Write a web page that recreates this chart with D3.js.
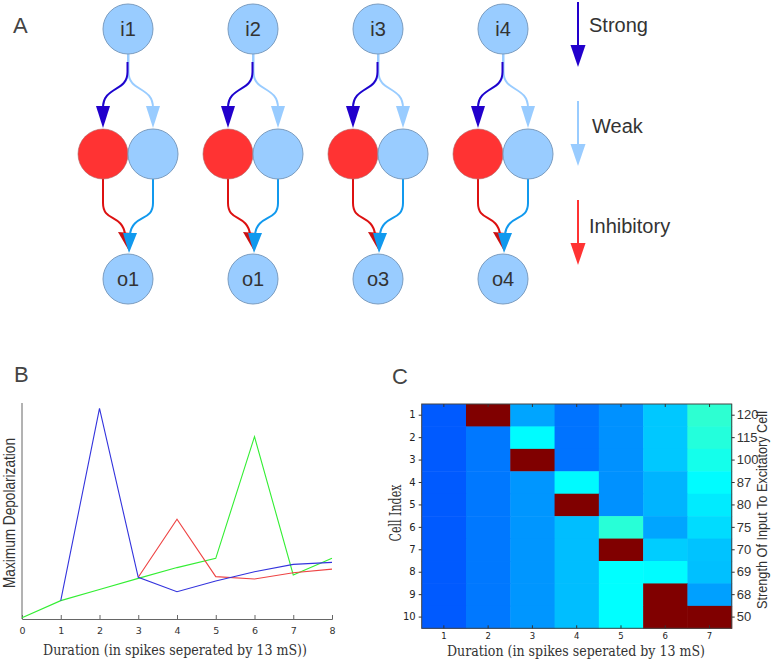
<!DOCTYPE html>
<html><head><meta charset="utf-8">
<script src="https://cdnjs.cloudflare.com/ajax/libs/d3/7.8.5/d3.min.js"></script>
<style>body{margin:0;background:#fff}svg{display:block}</style>
</head><body>
<svg id="c" width="773" height="662"></svg>
<script>
// ---------- DATA ----------
const inputLabels = ["i1", "i2", "i3", "i4"];
const outputLabels = ["o1", "o1", "o3", "o4"];
const legendLabels = ["Strong", "Weak", "Inhibitory"];

const durationTicks = [0, 1, 2, 3, 4, 5, 6, 7, 8];
const blueX = [1, 2, 3, 4, 5, 6, 7, 8];
const blueY = [8.5, 97.5, 19.3, 12.6, 17.6, 21.9, 25.3, 26.2];
const redX = [3, 4, 5, 6, 7, 8];
const redY = [19.3, 46.2, 19.6, 18.5, 21.4, 23.1];
const greenX = [0, 1, 2, 3, 4, 5, 6, 7, 8];
const greenY = [0.6, 8.5, 13.7, 18.8, 23.8, 28.1, 84.4, 20.4, 28.1];

const heatCols = [1, 2, 3, 4, 5, 6, 7];
const cellIndex = [1, 2, 3, 4, 5, 6, 7, 8, 9, 10];
const strengthLabels = ["120", "115", "100", "87", "80", "75", "70", "69", "68", "50"];
const heatValues = [
  [0.213, 1.000, 0.287, 0.238, 0.267, 0.321, 0.419],
  [0.213, 0.243, 0.372, 0.238, 0.267, 0.321, 0.409],
  [0.213, 0.243, 1.000, 0.238, 0.267, 0.321, 0.395],
  [0.213, 0.243, 0.272, 0.370, 0.267, 0.301, 0.372],
  [0.213, 0.243, 0.272, 1.000, 0.267, 0.301, 0.355],
  [0.213, 0.243, 0.272, 0.311, 0.414, 0.287, 0.341],
  [0.213, 0.243, 0.272, 0.311, 1.000, 0.326, 0.316],
  [0.213, 0.243, 0.272, 0.311, 0.375, 0.372, 0.313],
  [0.213, 0.243, 0.272, 0.311, 0.375, 1.000, 0.282],
  [0.213, 0.243, 0.272, 0.311, 0.375, 1.000, 1.000]
];

// ---------- STYLE ----------
const txt = "#333";
const nodeFill = "#99ccff", nodeStroke = "#7a9cc0", redFill = "#ff3333";
const strongC = "#2200cc", weakC = "#99ccff", inhibC = "#dd1111", outC = "#1199ee";
const legendColors = [strongC, weakC, "#ff3333"];
const svg = d3.select("#c");

// ---------- PANEL A ----------
svg.append("text").attr("x", 13).attr("y", 33).attr("font-family", "Liberation Sans, Arial, sans-serif")
  .attr("font-size", 22).attr("fill", "#444").text("A");

const colX = d3.scaleLinear().domain([0, 3]).range([128, 503]);
const R = 25, yIn = 29, yMid = 154, yOut = 279;
const gA = svg.append("g");

inputLabels.forEach((lab, i) => {
  const cx = colX(i);
  const g = gA.append("g");
  g.append("path").attr("d", `M${cx},${yIn + R} V72 C${cx},92 ${cx - 25},86 ${cx - 25},108`)
    .attr("fill", "none").attr("stroke", weakC).attr("stroke-width", 2);
  g.append("path").attr("d", `M${cx + 0.5},${yIn + R} V72 C${cx + 0.5},92 ${cx + 25},86 ${cx + 25},108`)
    .attr("fill", "none").attr("stroke", weakC).attr("stroke-width", 2);
  g.append("path").attr("d", `M${cx - 0.5},${yIn + R + 8} V72 C${cx - 0.5},92 ${cx - 25},86 ${cx - 25},108`)
    .attr("fill", "none").attr("stroke", strongC).attr("stroke-width", 2);
  g.append("path").attr("d", `M${cx - 32},106 L${cx - 18},106 L${cx - 25},128 Z`).attr("fill", strongC);
  g.append("path").attr("d", `M${cx + 18},106 L${cx + 32},106 L${cx + 25},128 Z`).attr("fill", weakC);
  g.append("path").attr("d", `M${cx - 25},${yMid + R} V203 C${cx - 25},222 ${cx - 6},214 ${cx - 3},234`)
    .attr("fill", "none").attr("stroke", inhibC).attr("stroke-width", 2);
  g.append("path").attr("d", `M${cx - 10},232 L${cx + 3},233 L${cx + 1},251 Z`).attr("fill", "#cc1111");
  g.append("path").attr("d", `M${cx + 25},${yMid + R} V203 C${cx + 25},222 ${cx + 5},214 ${cx + 2},234`)
    .attr("fill", "none").attr("stroke", outC).attr("stroke-width", 2);
  g.append("path").attr("d", `M${cx - 5},233 L${cx + 9},233 L${cx + 1},253 Z`).attr("fill", outC);
  g.append("circle").attr("cx", cx).attr("cy", yIn).attr("r", R).attr("fill", nodeFill).attr("stroke", nodeStroke);
  g.append("circle").attr("cx", cx - 25).attr("cy", yMid).attr("r", R).attr("fill", redFill).attr("stroke", "#b06060").attr("stroke-width", 0.6);
  g.append("circle").attr("cx", cx + 25).attr("cy", yMid).attr("r", R).attr("fill", nodeFill).attr("stroke", nodeStroke);
  g.append("circle").attr("cx", cx).attr("cy", yOut).attr("r", R).attr("fill", nodeFill).attr("stroke", nodeStroke);
  g.append("text").attr("x", cx).attr("y", yIn + 7).attr("text-anchor", "middle")
    .attr("font-family", "Liberation Sans, Arial, sans-serif").attr("font-size", 20).attr("fill", txt).text(lab);
  g.append("text").attr("x", cx).attr("y", yOut + 7).attr("text-anchor", "middle")
    .attr("font-family", "Liberation Sans, Arial, sans-serif").attr("font-size", 20).attr("fill", txt).text(outputLabels[i]);
});

const legY = d3.scaleLinear().domain([0, 2]).range([0, 198]);
legendLabels.forEach((lab, i) => {
  const y0 = 2 + legY(i);
  const lx = 578;
  svg.append("line").attr("x1", lx).attr("x2", lx).attr("y1", y0).attr("y2", y0 + 44)
    .attr("stroke", legendColors[i]).attr("stroke-width", 2);
  svg.append("path").attr("d", `M${lx - 7.5},${y0 + 43} L${lx + 7.5},${y0 + 43} L${lx},${y0 + 65} Z`).attr("fill", legendColors[i]);
  svg.append("text").attr("x", i === 1 ? 592 : 589).attr("y", (i === 0 ? 32 : i === 1 ? 133 : 233))
    .attr("font-family", "Liberation Sans, Arial, sans-serif").attr("font-size", 20).attr("fill", txt).text(lab);
});

// ---------- PANEL B ----------
svg.append("text").attr("x", 14).attr("y", 382).attr("font-family", "Liberation Sans, Arial, sans-serif")
  .attr("font-size", 22).attr("fill", "#444").text("B");

const xB = d3.scaleLinear().domain([0, 8]).range([22, 332]);
const yB = d3.scaleLinear().domain([0, 100]).range([619, 403]);
const gB = svg.append("g");
const xAxisB = d3.axisBottom(xB).tickValues(durationTicks).tickSize(-4).tickPadding(8).tickFormat(d3.format("d"));
const axB = gB.append("g").attr("transform", "translate(0,619)").call(xAxisB);
axB.select(".domain").attr("stroke", "#666");
axB.selectAll(".tick line").attr("stroke", "#666");
axB.selectAll(".tick text").attr("font-family", "DejaVu Sans, sans-serif").attr("font-size", 9.5).attr("fill", "#333");
gB.append("line").attr("x1", 22).attr("x2", 22).attr("y1", 403).attr("y2", 619).attr("stroke", "#666");

const lineB = d3.line().x(d => xB(d[0])).y(d => yB(d[1]));
[[greenX, greenY, "#33ee33"], [redX, redY, "#ee4444"], [blueX, blueY, "#3333dd"]].forEach(([xs, ys, c]) => {
  gB.append("path").datum(xs.map((x, i) => [x, ys[i]])).attr("d", lineB)
    .attr("fill", "none").attr("stroke", c).attr("stroke-width", 1.1);
});
gB.append("text").attr("x", 175).attr("y", 655).attr("text-anchor", "middle")
  .attr("font-family", "DejaVu Serif, serif").attr("font-size", 15).attr("fill", "#333")
  .attr("textLength", 264).attr("lengthAdjust", "spacingAndGlyphs")
  .text("Duration (in spikes seperated by 13 mS))");
gB.append("text").attr("transform", "translate(15,513) rotate(-90)").attr("text-anchor", "middle")
  .attr("font-family", "Liberation Sans, Arial, sans-serif").attr("font-size", 17).attr("fill", "#333")
  .attr("textLength", 150).attr("lengthAdjust", "spacingAndGlyphs")
  .text("Maximum Depolarization");

// ---------- PANEL C ----------
svg.append("text").attr("x", 392).attr("y", 384).attr("font-family", "Liberation Sans, Arial, sans-serif")
  .attr("font-size", 22).attr("fill", "#444").text("C");

const xC = d3.scaleBand().domain(heatCols).range([421.7, 731.7]);
const yC = d3.scaleBand().domain(cellIndex).range([404, 628.3]);
const jet = d3.scaleLinear().domain([0, 0.125, 0.375, 0.625, 0.875, 1])
  .range(["#00008f", "#0000ff", "#00ffff", "#ffff00", "#ff0000", "#800000"]);
const gC = svg.append("g");
heatValues.forEach((row, r) => {
  row.forEach((v, c) => {
    gC.append("rect").attr("x", xC(heatCols[c])).attr("y", yC(cellIndex[r]))
      .attr("width", xC.bandwidth() + 0.5).attr("height", yC.bandwidth() + 0.5)
      .attr("fill", jet(v));
  });
});
gC.append("rect").attr("x", 421.7).attr("y", 404).attr("width", 310).attr("height", 224.3)
  .attr("fill", "none").attr("stroke", "#444").attr("stroke-width", 1);

const styleAxis = (sel, fs) => {
  sel.select(".domain").remove();
  sel.selectAll(".tick line").attr("stroke", "#333");
  sel.selectAll(".tick text").attr("font-family", "DejaVu Sans, sans-serif").attr("font-size", fs).attr("fill", "#222");
};
gC.append("g").attr("transform", "translate(0,628.3)")
  .call(d3.axisBottom(xC).tickSize(-3).tickPadding(5)).call(s => styleAxis(s, 8.5));
gC.append("g").attr("transform", "translate(0,404)")
  .call(d3.axisTop(xC).tickSize(-3).tickFormat("")).call(s => styleAxis(s, 9));
gC.append("g").attr("transform", "translate(421.7,0)")
  .call(d3.axisLeft(yC).tickSize(3).tickPadding(3)).call(s => styleAxis(s, 10));
const yCr = d3.scaleBand().domain(strengthLabels).range([404, 628.3]);
gC.append("g").attr("transform", "translate(731.7,0)")
  .call(d3.axisRight(yCr).tickSize(3).tickPadding(2)).call(s => styleAxis(s, 13))
  .selectAll(".tick text").attr("font-family", "Liberation Sans, Arial, sans-serif").attr("fill", "#333");

gC.append("text").attr("x", 576).attr("y", 656).attr("text-anchor", "middle")
  .attr("font-family", "DejaVu Serif, serif").attr("font-size", 15).attr("fill", "#333")
  .attr("textLength", 258).attr("lengthAdjust", "spacingAndGlyphs")
  .text("Duration (in spikes seperated by 13 mS)");
gC.append("text").attr("transform", "translate(401,513) rotate(-90)").attr("text-anchor", "middle")
  .attr("font-family", "DejaVu Serif, serif").attr("font-size", 16).attr("fill", "#333")
  .attr("textLength", 57).attr("lengthAdjust", "spacingAndGlyphs")
  .text("Cell Index");
gC.append("text").attr("transform", "translate(767,510) rotate(-90)").attr("text-anchor", "middle")
  .attr("font-family", "Liberation Sans, Arial, sans-serif").attr("font-size", 15).attr("fill", "#333")
  .attr("textLength", 198).attr("lengthAdjust", "spacingAndGlyphs")
  .text("Strength Of Input To Excitatory Cell");
</script>
</body></html>
